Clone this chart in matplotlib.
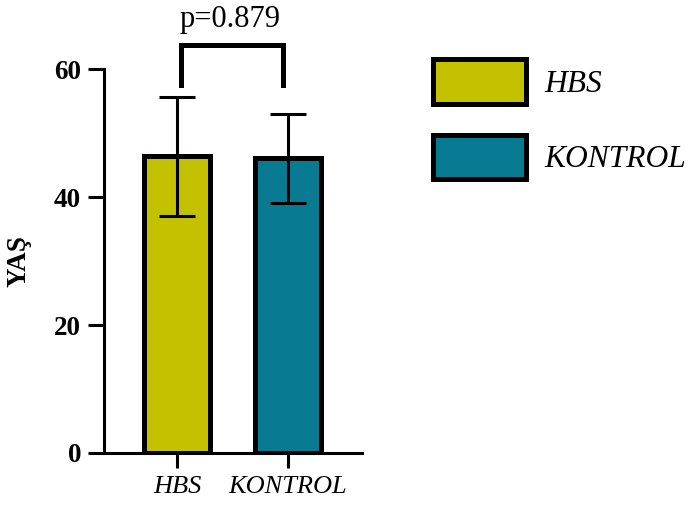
import numpy as np
import matplotlib
matplotlib.use("Agg")
import matplotlib.pyplot as plt
from matplotlib.patches import Patch

plt.rcParams['font.family'] = ['Liberation Serif', 'DejaVu Serif']

# Veriler
gruplar = ["HBS", "KONTROL"]
ortalama = [46.4, 46.1]
sd = [9.3, 7.0]
renkler = ["#C3C100", "#087B93"]
p_degeri = "p=0.879"

fig = plt.figure(figsize=(6.94, 5.08), dpi=100)
ax = fig.add_axes([0.1499, 0.1083, 0.3718, 0.7549])

x = np.arange(len(gruplar))
ax.bar(x, ortalama, width=0.6, color=renkler, edgecolor="black",
       linewidth=3.6, zorder=2)
ax.errorbar(x, ortalama, yerr=sd, fmt="none", ecolor="black",
            elinewidth=2.2, capsize=13, capthick=2.2, zorder=3)

ax.set_xlim(-0.66, 1.667)
ax.set_ylim(0, 60)
ax.set_yticks([0, 20, 40, 60])
ax.set_xticks(x)
ax.set_xticklabels(gruplar, fontsize=19, style="italic")
for lbl in ax.get_yticklabels():
    lbl.set_fontsize(19.5)
    lbl.set_fontweight("bold")
ax.set_ylabel("YAŞ", fontsize=19.5, fontweight="bold", labelpad=16)

for s in ["top", "right"]:
    ax.spines[s].set_visible(False)
for s in ["left", "bottom"]:
    ax.spines[s].set_linewidth(2.2)
ax.tick_params(axis="y", length=11.5, width=2.2, pad=5)
ax.tick_params(axis="x", length=10.5, width=2.2, pad=6)

# p değeri köprüsü
ax.plot([0.03, 0.03, 0.95, 0.95], [57.6, 63.8, 63.8, 57.6], color="black",
        linewidth=3.6, clip_on=False, solid_joinstyle="miter", zorder=4)
ax.text(0.48, 66.7, p_degeri, ha="center", va="baseline", fontsize=22,
        clip_on=False)

# Açıklama
el = [Patch(facecolor=renkler[i], edgecolor="black", linewidth=3.6,
            label=gruplar[i]) for i in range(len(gruplar))]
fig.legend(handles=el, loc="upper left", bbox_to_anchor=(0.624, 0.883),
           frameon=False, borderpad=0, borderaxespad=0,
           handlelength=2.95, handleheight=1.78, labelspacing=1.0,
           handletextpad=0.58, prop={"size": 22.7, "style": "italic"})

fig.savefig("out.png", dpi=100)
